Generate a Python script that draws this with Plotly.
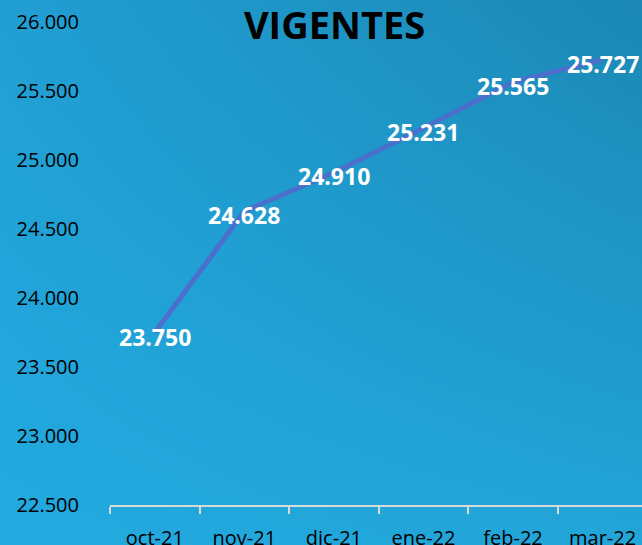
import base64, struct, zlib
import plotly.graph_objects as go

# ---- data ----
months = ["oct-21", "nov-21", "dic-21", "ene-22", "feb-22", "mar-22"]
vigentes = [23750, 24628, 24910, 25231, 25565, 25727]
y_ticks = [22500, 23000, 23500, 24000, 24500, 25000, 25500, 26000]

# ---- gradient background as PNG data URI ----
def gradient_png(w, h, tl, tr, bl, br):
    rows = []
    for j in range(h):
        v = j / (h - 1)
        row = bytearray([0])
        for i in range(w):
            u = i / (w - 1)
            px = []
            for c in range(3):
                top = tl[c] * (1 - u) + tr[c] * u
                bot = bl[c] * (1 - u) + br[c] * u
                px.append(int(round(top * (1 - v) + bot * v)))
            row.extend(px)
        rows.append(bytes(row))
    raw = b"".join(rows)

    def chunk(tag, data):
        c = struct.pack(">I", len(data)) + tag + data
        return c + struct.pack(">I", zlib.crc32(tag + data) & 0xffffffff)

    png = b"\x89PNG\r\n\x1a\n"
    png += chunk(b"IHDR", struct.pack(">IIBBBBB", w, h, 8, 2, 0, 0, 0))
    png += chunk(b"IDAT", zlib.compress(raw, 9))
    png += chunk(b"IEND", b"")
    return "data:image/png;base64," + base64.b64encode(png).decode()

bg = gradient_png(161, 137, (33, 159, 211), (27, 136, 181), (34, 170, 224), (34, 165, 216))

fig = go.Figure()
fig.add_trace(go.Scatter(
    x=months, y=vigentes,
    mode="lines",
    line=dict(color="#4a6fcc", width=5),
    hoverinfo="skip",
))

for m, v in zip(months, vigentes):
    fig.add_annotation(
        x=m, y=v, xref="x", yref="y",
        text=f"<b>{v:,}</b>".replace(",", "."),
        showarrow=False, xanchor="center", yanchor="middle", yshift=-4,
        font=dict(family="Open Sans", size=23, color="white"),
    )

fig.update_layout(
    width=642, height=545,
    margin=dict(l=110, r=0, t=22, b=40),
    paper_bgcolor="#22a5d8",
    plot_bgcolor="rgba(0,0,0,0)",
    separators=",.",
    showlegend=False,
    images=[dict(source=bg, xref="paper", yref="paper", x=-110/532, y=1 + 22/483,
                 sizex=642/532, sizey=545/483, sizing="stretch",
                 xanchor="left", yanchor="top", layer="below")],
    title=dict(text="<b>VIGENTES</b>", x=334.5/642, xanchor="center",
               y=1 - 26/545, yanchor="middle",
               font=dict(family="Liberation Sans Narrow, Open Sans", size=38, color="black")),
    xaxis=dict(
        range=[-0.5, 5.44],
        showgrid=False, zeroline=False, automargin=False,
        showline=True, linecolor="#d9d9d9", linewidth=2,
        ticks="outside", tickson="boundaries", ticklen=7, tickcolor="#d9d9d9", tickwidth=2,
        tickfont=dict(family="Open Sans", size=20, color="black"),
        ticklabelstandoff=14,
    ),
    yaxis=dict(
        range=[22500, 26000], automargin=False,
        tickvals=y_ticks, tickformat=",d",
        showgrid=False, zeroline=False, showline=False,
        tickfont=dict(family="Open Sans", size=20, color="black"),
        ticklabelstandoff=30,
    ),
)

fig.write_html("out.html", config={"displayModeBar": False},
               post_script="document.body.style.margin='0';document.body.style.overflow='hidden';")
